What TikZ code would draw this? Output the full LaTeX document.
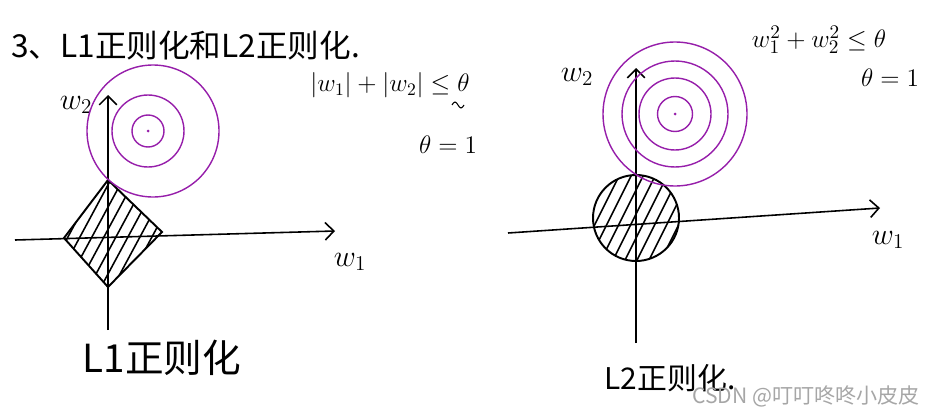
\documentclass[tikz,border=0pt]{standalone}
\usepackage{fontspec}
\newfontfamily\cjk{Noto Sans CJK SC}
\usetikzlibrary{arrows.meta, positioning}
\definecolor{ringpurple}{RGB}{150,30,170}

\begin{document}
\begin{tikzpicture} [x=0.02cm, y=-0.02cm,
    axis/.style = {line width=0.9pt, -{Straight Barb[length=5pt, width=10pt]}},
    ring/.style = {ringpurple, line width=0.8pt},
    ball/.style = {line width=1.1pt},
    hatch/.style = {line width=0.9pt},
    lbl/.style = {font=\fontsize{17}{20}\selectfont}]

\useasboundingbox (0,0) rectangle (925,419);

\node (title) [anchor=west] at (5,45) {\fontsize{18}{22}\selectfont\cjk 3、L1正则化和L2正则化.};

% L1 side
\coordinate (x1s) at (15,240);
\coordinate (x1e) at (335,231);
\coordinate (y1s) at (108,330);
\coordinate (y1e) at (108,95);
\draw [axis] (x1s) -- (x1e);
\draw [axis] (y1s) -- (y1e);
\node (w2a) [lbl] at (76,105) {$w_2$};
\node (w1a) [lbl] at (350,262) {$w_1$};

\coordinate (dt) at (108,180);
\coordinate (dr) at (162,232);
\coordinate (db) at (108,287);
\coordinate (dl) at (64,238);
\draw [ball] (dt) -- (dr) -- (db) -- (dl) -- cycle;
\begin{scope}
  \clip (dt) -- (dr) -- (db) -- (dl) -- cycle;
  \foreach \x in {10,22,...,190}
    \draw [hatch] (\x,300) -- (\x+70,170);
\end{scope}

\coordinate (c1) at (148,131);
\foreach \r in {16,36}
  \draw [ring] (c1) circle (\r);
\draw [ring] (153,131) circle (66);
\fill [ringpurple] (c1) circle (1.5);

\node (l1rule) [inner sep=1pt] at (390,85) {\fontsize{14}{17}\selectfont $|w_1|+|w_2|\le\theta$};
% squiggle under theta
\draw [line width=0.6pt] (452,105) sin (455,102) cos (458,105) sin (461,108) cos (464,105);
\node (l1theta) at (448,145) {\fontsize{15}{18}\selectfont $\theta=1$};
\node (l1name) at (162,358) {\fontsize{22}{26}\selectfont\cjk L1正则化};

% L2 side
\coordinate (x2s) at (508,233);
\coordinate (x2e) at (880,208);
\coordinate (y2s) at (636,343);
\coordinate (y2e) at (636,68);
\draw [axis] (x2s) -- (x2e);
\draw [axis] (y2s) -- (y2e);
\node (w2b) [lbl] at (577,77) {$w_2$};
\node (w1b) [lbl] at (888,240) {$w_1$};

\coordinate (c2) at (636,218);
\draw [ball] (c2) circle (43);
\begin{scope}
  \clip (c2) circle (43);
  \foreach \x in {560,572,...,700}
    \draw [hatch] (\x,270) -- (\x+55,160);
\end{scope}

\coordinate (c3) at (675,114);
\foreach \r in {17.5,36,53,72}
  \draw [ring] (c3) circle (\r);
\fill [ringpurple] (c3) circle (1.5);

\node (l2rule) [inner sep=1pt] at (819,40) {\fontsize{15}{18}\selectfont $w_1^2+w_2^2\le\theta$};
\node (l2theta) [inner sep=1pt] at (890,78) {\fontsize{15}{18}\selectfont $\theta=1$};
\node (l2name) at (670,378) {\fontsize{17}{20}\selectfont\cjk L2正则化.};
\node (mark) [inner sep=0pt] at (806,396) {\fontsize{12}{14}\selectfont\color{gray!70}\cjk CSDN @叮叮咚咚小皮皮};
\end{tikzpicture}
\end{document}
